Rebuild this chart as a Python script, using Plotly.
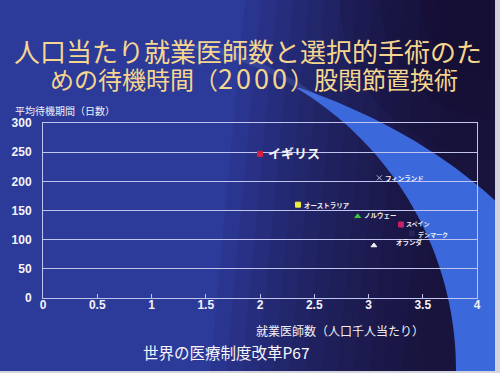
import numpy as np
import plotly.graph_objects as go

# ---- data ----
countries = ["イギリス", "フィンランド", "オーストラリア", "ノルウェー", "スペイン", "デンマーク", "オランダ"]
doctors = [2.0, 3.1, 2.35, 2.9, 3.3, 3.4, 3.05]          # 就業医師数（人口千人当たり）
wait_days = [247, 206, 160, 140, 126, 111, 90]          # 平均待機期間（日数）
x_tick_vals = [0, 0.5, 1, 1.5, 2, 2.5, 3, 3.5, 4]
x_tick_text = ["0", "0.5", "1", "1.5", "2", "2.5", "3", "3.5", "4"]
y_tick_vals = [0, 50, 100, 150, 200, 250, 300]
y_tick_text = ["0", "50", "100", "150", "200", "250", "300"]

title_line1 = "人口当たり就業医師数と選択的手術のた"
title_line2_a = "めの待機時間（"
title_year = "2000"
title_line2_b = "）股関節置換術"
x_title = "就業医師数（人口千人当たり）"
y_title = "平均待機期間（日数）"
source = "世界の医療制度改革P67"

# ---- styles ----
marker_colors = ["#d8203c", "#b8b8d8", "#f0ee3a", "#3cc840", "#c8206a", "#2a2458", "#f4f4f4"]
marker_symbols = ["square", "x-thin-open", "square", "triangle-up", "square", "square", "triangle-up"]
label_sizes = [13, 6.5, 6.5, 6.5, 6, 6, 6.5]
label_xshift = [6, 4, 4, 4, 3, 4, 20]
label_yshift = [1, 0, 0, 1, 1, -1, 4]

W_PX, H_PX = 500, 373
L, R, T, B = 43, 23, 123, 75
PW = W_PX - L - R
PH = H_PX - T - B
BOT = H_PX - B


def pp(x, y):
    return (x - L) / PW, (BOT - y) / PH


def path_from(points):
    s = ""
    for i, (x, y) in enumerate(points):
        px_, py_ = pp(x, y)
        s += ("M" if i == 0 else "L") + f"{px_:.4f},{py_:.4f} "
    return s + "Z"


shapes = []
# darker area to the right (layered strips, slightly slanted)
for xs in np.arange(220, 440, 16):
    shapes.append(dict(type="path", xref="paper", yref="paper",
                       path=path_from([(xs + 25, 0), (500, 0), (500, 373), (xs - 10, 373)]),
                       fillcolor="#140a24", opacity=0.09, line=dict(width=0), layer="below"))
# extra darkening of top-right corner
for r in [160, 120, 80]:
    x0, y0 = pp(500 - r, -r)
    x1, y1 = pp(500 + r, r)
    shapes.append(dict(type="circle", xref="paper", yref="paper", x0=x0, x1=x1, y0=y1, y1=y0,
                       fillcolor="#120a20", opacity=0.12, line=dict(width=0), layer="below"))

# bright blue swoosh band
ccx, ccy, rr = 127, 370, 329
left_edge = []
for yy in np.linspace(88, 373, 30):
    dx = np.sqrt(max(rr ** 2 - (ccy - yy) ** 2, 0))
    left_edge.append((ccx + dx, yy))
right_edge = []
for t in np.linspace(0, 1, 20):
    p0, p1, p2 = np.array([500, 205]), np.array([420, 130]), np.array([300, 88])
    p = (1 - t) ** 2 * p0 + 2 * (1 - t) * t * p1 + t ** 2 * p2
    right_edge.append((p[0], p[1]))
band = left_edge + [(500, 373)] + right_edge
shapes.append(dict(type="path", xref="paper", yref="paper", path=path_from(band),
                   fillcolor="#3b69dc", line=dict(width=0), layer="below"))
# faint continuation at top
faint = []
for yy in np.linspace(45, 100, 15):
    dx = np.sqrt(max(rr ** 2 - (ccy - yy) ** 2, 0))
    faint.append((ccx + dx, yy))
for yy in np.linspace(100, 45, 15):
    dx = np.sqrt(max((rr + 8) ** 2 - (ccy - yy) ** 2, 0))
    faint.append((ccx + dx - 5, yy))
shapes.append(dict(type="path", xref="paper", yref="paper", path=path_from(faint),
                   fillcolor="#6a80e0", opacity=0.22, line=dict(width=0), layer="below"))
# photo border strips
shapes.append(dict(type="path", xref="paper", yref="paper",
                   path=path_from([(495, 0), (500, 0), (500, 373), (495, 373)]),
                   fillcolor="#d4d4dc", line=dict(width=0), layer="below"))
shapes.append(dict(type="path", xref="paper", yref="paper",
                   path=path_from([(0, 371), (500, 371), (500, 373), (0, 373)]),
                   fillcolor="#d4d4dc", line=dict(width=0), layer="below"))

fig = go.Figure()
fig.add_trace(go.Scatter(
    x=doctors, y=wait_days, mode="markers",
    marker=dict(color=marker_colors, symbol=marker_symbols, size=5,
                line=dict(width=1, color=marker_colors)),
    hoverinfo="skip", showlegend=False, cliponaxis=False))

annotations = []
for name, xv, yv, fs, xs, ys in zip(countries, doctors, wait_days, label_sizes, label_xshift, label_yshift):
    annotations.append(dict(x=xv, y=yv, xref="x", yref="y", text=name, showarrow=False,
                            xanchor="left", yanchor="middle", xshift=xs, yshift=ys,
                            font=dict(family="Noto Sans CJK JP", size=fs, color="#f2f2f6",
                                      weight="bold")))

ax, ay = pp(248, 51)
annotations.append(dict(x=ax, y=ay, xref="paper", yref="paper", text=title_line1, showarrow=False,
                        xanchor="center", yanchor="middle",
                        font=dict(family="Noto Sans CJK JP", size=26, color="#f6d68e")))
line2 = (title_line2_a + '<span style="letter-spacing:3px;font-size:27px">' + title_year
         + '</span>' + title_line2_b)
ax, ay = pp(254, 77)
annotations.append(dict(x=ax, y=ay, xref="paper", yref="paper", text=line2, showarrow=False,
                        xanchor="center", yanchor="middle",
                        font=dict(family="Noto Sans CJK JP", size=24, color="#f6d68e")))
ax, ay = pp(13, 110)
annotations.append(dict(x=ax, y=ay, xref="paper", yref="paper", text=y_title, showarrow=False,
                        xanchor="left", yanchor="middle",
                        font=dict(family="Noto Sans CJK JP", size=10, color="#f0f0f6")))
ax, ay = pp(340, 330)
annotations.append(dict(x=ax, y=ay, xref="paper", yref="paper", text=x_title, showarrow=False,
                        xanchor="center", yanchor="middle",
                        font=dict(family="Noto Sans CJK JP", size=12, color="#f0f0f6")))
ax, ay = pp(226, 352)
annotations.append(dict(x=ax, y=ay, xref="paper", yref="paper", text=source, showarrow=False,
                        xanchor="center", yanchor="middle",
                        font=dict(family="Noto Sans CJK JP", size=15.5, color="#f6f6fa")))

grid_col = "#c0c4ee"
tick_font = dict(family="Liberation Sans", size=12, color="#f4f4f8", weight="bold")
fig.update_layout(
    width=W_PX, height=H_PX,
    margin=dict(l=L, r=R, t=T, b=B, pad=0),
    paper_bgcolor="#2c3a9a",
    plot_bgcolor="rgba(0,0,0,0)",
    shapes=shapes,
    annotations=annotations,
    xaxis=dict(range=[0, 4], tickvals=x_tick_vals, ticktext=x_tick_text, showgrid=False,
               zeroline=False, showline=True, linecolor=grid_col, linewidth=1, mirror=True,
               ticks="inside", ticklen=4, tickcolor=grid_col, ticklabelstandoff=-4,
               tickfont=tick_font),
    yaxis=dict(range=[0, 300], tickvals=y_tick_vals, ticktext=y_tick_text, showgrid=True,
               gridcolor=grid_col, gridwidth=1, zeroline=False, showline=True,
               linecolor=grid_col, linewidth=1, mirror=True, ticks="", ticklabelstandoff=8,
               tickfont=tick_font),
)

fig.write_html("out.html")
